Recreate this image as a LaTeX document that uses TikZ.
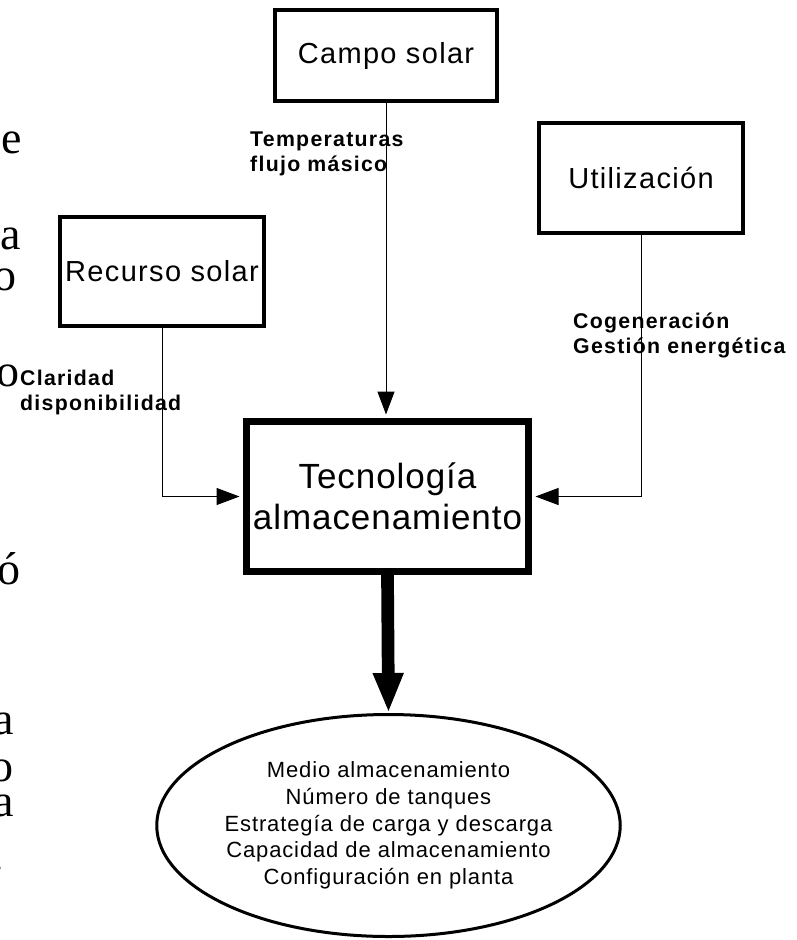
\documentclass[tikz,border=0pt]{standalone}
\usepackage{fontspec}
\setmainfont{Liberation Sans}
\newfontfamily\mainLS{Liberation Sans}[LetterSpace=4.6]
\newfontfamily\bigLS{Liberation Sans}[LetterSpace=2.7]
\newfontfamily\ellLS{Liberation Sans}[LetterSpace=4]
\newfontfamily\labLS{Liberation Sans}[LetterSpace=6]
\newfontfamily\serf{Liberation Serif}
\usetikzlibrary{arrows.meta,shapes.geometric}
\begin{document}
\begin{tikzpicture}[x=1pt,y=-1pt,
  box/.style={draw,line width=4pt,rectangle,inner sep=0pt,align=center,
    font=\mainLS\fontsize{29}{33}\selectfont},
  lbl/.style={anchor=north west,align=left,inner sep=0pt,
    font=\labLS\bfseries\fontsize{21.3}{25}\selectfont},
  frag/.style={anchor=base east,inner sep=0pt,font=\serf\fontsize{46}{46}\selectfont},
  conn/.style={line width=1pt,-{Triangle[length=23pt,width=17pt]},shorten >=3.5pt}]
\useasboundingbox (0,0) rectangle (796,940);
\fill[white] (0,0) rectangle (796,940);
\clip (0,0) rectangle (796,940);

% cut-off serif letters at the left margin
\node[frag] (f1) at (22,153) {e};
\node[frag] (f2) at (21,249) {a};
\node[frag] (f3) at (17,290) {o};
\node[frag] (f4) at (20,386) {o};
\node[frag] (f5) at (21,584) {ó};
\node[frag] (f6) at (14,734) {a};
\node[frag] (f7) at (14,781) {o};
\node[frag] (f8) at (14,816) {a};
\node[frag] (f9) at (4,870) {.};

% boxes
\node[box,minimum width=222pt,minimum height=91pt] (camp) at (386,55.5) {Campo solar};
\node[box,minimum width=204pt,minimum height=109pt] (rec) at (162,271.5) {Recurso solar};
\node[box,minimum width=204pt,minimum height=110pt] (util) at (641,178) {Utilización};
\node[box,line width=7pt,minimum width=282pt,minimum height=150pt,
  font=\bigLS\fontsize{35}{41}\selectfont] (tec) at (387.5,496.5) {Tecnología\\almacenamiento};
\node[ellipse,draw,line width=3pt,minimum width=430pt,minimum height=222pt,inner sep=0pt,
  align=center,font=\ellLS\fontsize{22}{26.8}\selectfont] (ell) at (388.5,825.5)
  {Medio almacenamiento\\Número de tanques\\Estrategía de carga y descarga\\Capacidad de almacenamiento\\Configuración en planta};

% labels
\node[lbl] (lt) at (250,132) {Temperaturas\\flujo másico};
\node[lbl] (lc) at (20,370) {Claridad\\disponibilidad};
\node[lbl] (lg) at (573,313) {Cogeneración\\Gestión energética};

% connectors
\draw[conn] (camp.south) -- (camp.south |- tec.north);
\draw[conn] (rec.south) |- (tec.west);
\draw[conn] (util.south) |- (tec.east);
\draw[line width=12.7pt,-{Triangle[length=40pt,width=28pt]}] (tec.south) -- (ell.north);
\end{tikzpicture}
\end{document}
